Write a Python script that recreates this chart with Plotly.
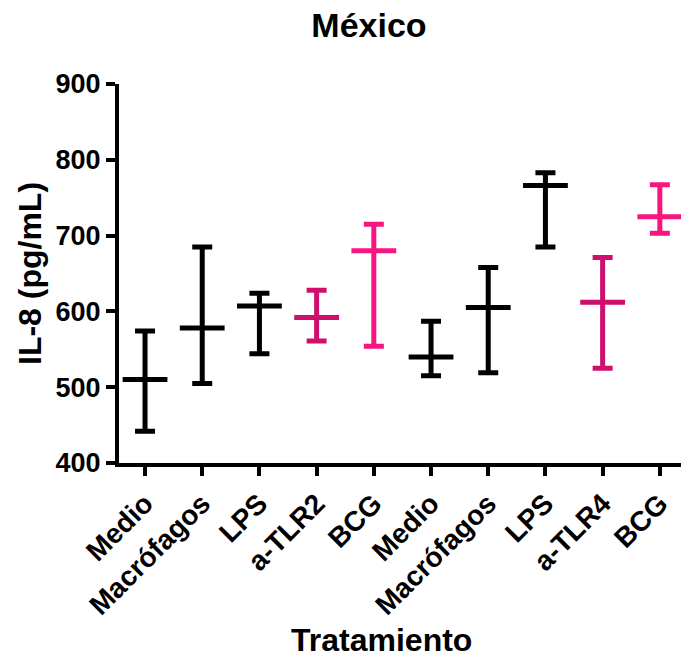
import plotly.graph_objects as go

# IL-8 secretion per treatment: central value with lower/upper bounds (pg/mL)
categories = ["Medio", "Macrófagos", "LPS", "a-TLR2", "BCG",
              "Medio", "Macrófagos", "LPS", "a-TLR4", "BCG"]
center = [510, 578, 607, 592, 680, 540, 605, 766, 612, 725]
upper = [574, 685, 624, 628, 715, 587, 658, 783, 671, 767]
lower = [442, 505, 544, 561, 554, 515, 519, 685, 525, 703]
group = ["k", "k", "k", "tlr", "bcg", "k", "k", "k", "tlr", "bcg"]

palette = {"k": "#000000", "tlr": "#CF0F6C", "bcg": "#F7167F"}

FONT = "Liberation Sans, Arial, sans-serif"

W, H = 681, 662
L, R, T, B = 119, 0, 84, 199

fig = go.Figure()
for key, colour in palette.items():
    idx = [i for i, g in enumerate(group) if g == key]
    fig.add_trace(go.Scatter(
        x=idx,
        y=[center[i] for i in idx],
        mode="markers",
        marker=dict(symbol="line-ew", size=32, color=colour,
                    line=dict(width=5, color=colour)),
        error_y=dict(
            type="data", symmetric=False,
            array=[upper[i] - center[i] for i in idx],
            arrayminus=[center[i] - lower[i] for i in idx],
            color=colour, thickness=5, width=10,
        ),
        showlegend=False,
        hoverinfo="skip",
    ))

ytick_font = dict(family=FONT, size=27, color="#000000", weight="bold")
xtick_font = dict(family=FONT, size=28, color="#000000", weight="bold")
title_font = dict(family=FONT, size=32, color="#000000", weight="bold")

pw, ph = W - L - R, H - T - B

fig.update_layout(
    width=W, height=H,
    margin=dict(l=L, r=R, t=T, b=B),
    paper_bgcolor="#FFFFFF", plot_bgcolor="#FFFFFF",
    title=dict(text="México", x=369 / W, xref="container", xanchor="center",
               y=1 - 25 / H, yref="container", yanchor="middle",
               font=dict(family=FONT, size=34, color="#000000", weight="bold")),
    xaxis=dict(
        range=[-0.455, 9.37],
        tickmode="array", tickvals=list(range(len(categories))), ticktext=categories,
        tickangle=-45, tickfont=xtick_font,
        showline=True, linecolor="#000000", linewidth=4,
        ticks="outside", ticklen=9, tickwidth=4, tickcolor="#000000",
        showgrid=False, zeroline=False,
    ),
    yaxis=dict(
        range=[400, 900], tickvals=[400, 500, 600, 700, 800, 900],
        tickfont=ytick_font,
        showline=True, linecolor="#000000", linewidth=4,
        ticks="outside", ticklen=9, tickwidth=4, tickcolor="#000000",
        showgrid=False, zeroline=False,
    ),
    annotations=[
        dict(text="IL-8 (pg/mL)", textangle=-90, xref="paper", yref="paper",
             x=(30 - L) / pw, y=(H - B - 274) / ph, xanchor="center", yanchor="middle",
             showarrow=False, font=title_font),
        dict(text="Tratamiento", xref="paper", yref="paper",
             x=(381 - L) / pw, y=-(640 - (H - B)) / ph, xanchor="center", yanchor="middle",
             showarrow=False, font=title_font),
    ],
)

fig.write_html("out.html")
